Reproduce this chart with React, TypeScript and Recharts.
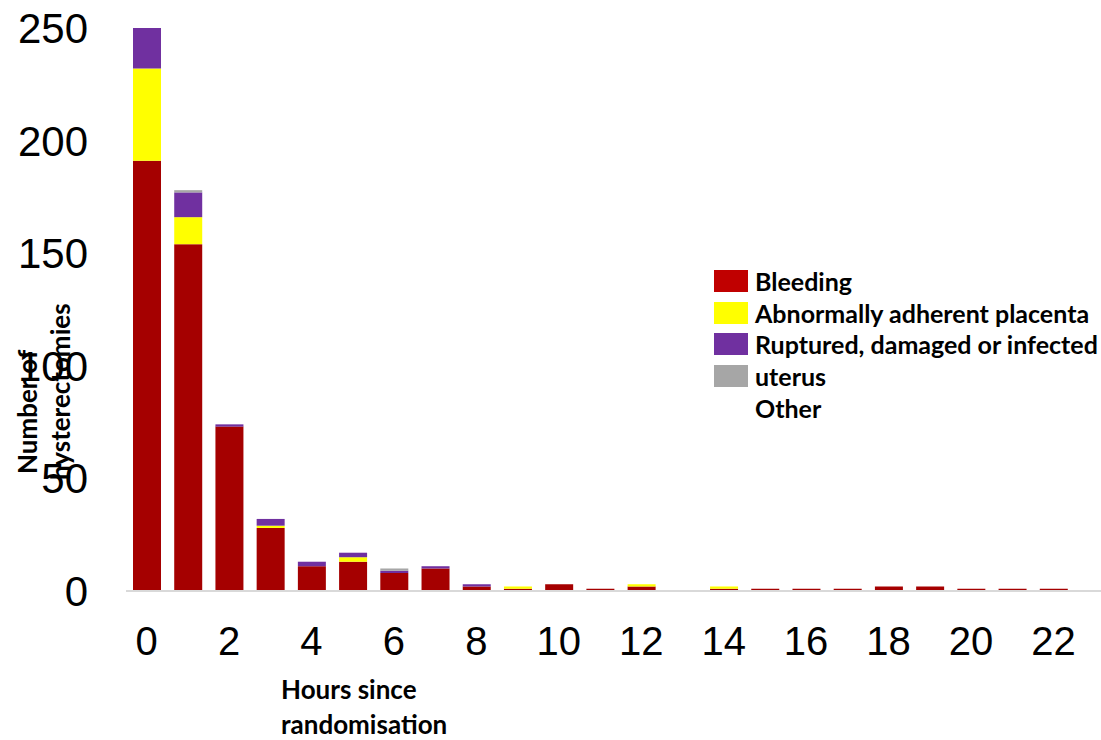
import { Bar, BarChart, XAxis, YAxis } from "recharts";

const hours = ["0", "1", "2", "3", "4", "5", "6", "7", "8", "9", "10", "11", "12", "13", "14", "15", "16", "17", "18", "19", "20", "21", "22"];
const bleeding = [191, 154, 73, 28, 11, 13, 8, 10, 2, 1, 3, 1, 2, 0, 1, 1, 1, 1, 2, 2, 1, 1, 1];
const placenta = [41, 12, 0, 1, 0, 2, 0, 0, 0, 1, 0, 0, 1, 0, 1, 0, 0, 0, 0, 0, 0, 0, 0];
const ruptured = [18, 11, 1, 3, 2, 2, 1, 1, 1, 0, 0, 0, 0, 0, 0, 0, 0, 0, 0, 0, 0, 0, 0];
const other = [0, 1, 0, 0, 0, 0, 1, 0, 0, 0, 0, 0, 0, 0, 0, 0, 0, 0, 0, 0, 0, 0, 0];
const yTicks = [0, 50, 100, 150, 200, 250];

const legendRows = [
  { color: "#C00000", text: "Bleeding" },
  { color: "#FFFF00", text: "Abnormally adherent placenta" },
  { color: "#7030A0", text: "Ruptured, damaged or infected" },
  { color: "#A6A6A6", text: "uterus" },
  { color: "", text: "Other" },
];

const data = hours.map((h, i) => ({
  hour: h,
  bleeding: bleeding[i],
  placenta: placenta[i],
  ruptured: ruptured[i],
  other: other[i],
}));

const titleFont = { fontFamily: "Lato", fontWeight: 700, fontSize: 26, fill: "#000" };

function XTitle() {
  return (
    <g>
      <text x={281} y={699} {...titleFont}>Hours since</text>
      <text x={281} y={734} {...titleFont}>randomisation</text>
    </g>
  );
}

function YTitle() {
  return (
    <g>
      <text x={37} y={474} transform="rotate(-90 37 474)" {...titleFont}>Number of</text>
      <text x={70} y={480} transform="rotate(-90 70 480)" {...titleFont}>hysterectomies</text>
    </g>
  );
}

export default function App() {
  return (
    <div style={{ position: "absolute", left: 0, top: 0, width: 1101, height: 740, background: "#fff" }}>
      <BarChart width={1101} height={740} data={data} margin={{ top: 28, right: 0, left: 0, bottom: 0 }}>
        <XAxis
          dataKey="hour"
          height={149}
          interval={1}
          padding={{ left: 0, right: 27 }}
          tickLine={false}
          tickSize={0}
          tickMargin={36}
          axisLine={{ stroke: "#D9D9D9", strokeWidth: 2 }}
          tick={{ fill: "#000", fontSize: 40, fontFamily: "Liberation Sans" }}
          label={<XTitle />}
        />
        <YAxis
          width={126}
          domain={[0, 250]}
          ticks={yTicks}
          axisLine={false}
          tickLine={false}
          tickSize={0}
          tickMargin={38}
          tick={{ fill: "#000", fontSize: 42, fontFamily: "Liberation Sans" }}
          label={<YTitle />}
        />
        <Bar dataKey="bleeding" stackId="a" fill="#A50000" barSize={28} isAnimationActive={false} />
        <Bar dataKey="placenta" stackId="a" fill="#FFFF00" barSize={28} isAnimationActive={false} />
        <Bar dataKey="ruptured" stackId="a" fill="#7030A0" barSize={28} isAnimationActive={false} />
        <Bar dataKey="other" stackId="a" fill="#A6A6A6" barSize={28} isAnimationActive={false} />
      </BarChart>
      <div style={{ position: "absolute", left: 714, top: 265, fontFamily: "Lato", fontWeight: 700, fontSize: 25, color: "#000" }}>
        {legendRows.map((r) => (
          <div key={r.text} style={{ display: "flex", alignItems: "center", height: 31.7, whiteSpace: "nowrap" }}>
            <span style={{ display: "inline-block", width: 34, height: 22, background: r.color || "transparent", marginRight: 7 }} />
            <span>{r.text}</span>
          </div>
        ))}
      </div>
    </div>
  );
}
